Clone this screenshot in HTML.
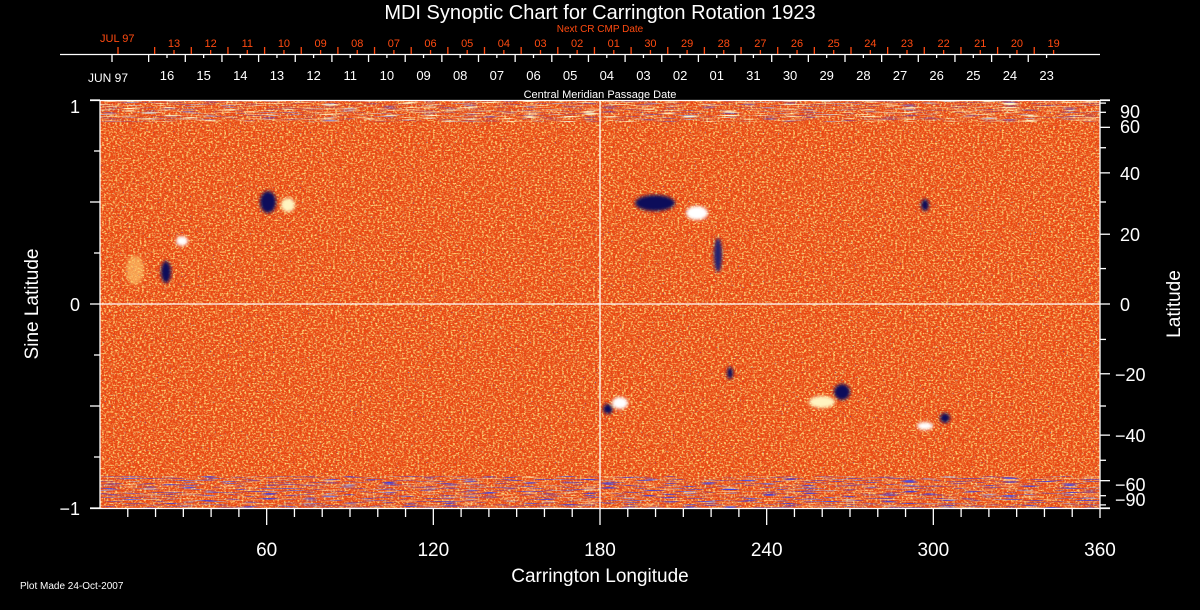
<!DOCTYPE html>
<html><head><meta charset="utf-8"><style>
html,body{margin:0;padding:0;background:#000;}
svg{display:block;font-family:"Liberation Sans",sans-serif;}
</style></head><body>
<svg id="s" width="1200" height="610" xmlns="http://www.w3.org/2000/svg">
<defs>
<filter id="n1" x="0" y="0" width="100%" height="100%">
<feTurbulence type="fractalNoise" baseFrequency="0.45 0.6" numOctaves="2" seed="3"/>
<feColorMatrix type="matrix" values="0 0 0 0 1  0 0 0 0 0.7  0 0 0 0 0.2  3.4 0 0 0 -1.6"/>
</filter>
<filter id="n2" x="0" y="0" width="100%" height="100%">
<feTurbulence type="fractalNoise" baseFrequency="0.5 0.7" numOctaves="1" seed="9"/>
<feColorMatrix type="matrix" values="0 0 0 0 0.8  0 0 0 0 0.12  0 0 0 0 0.02  3 0 0 0 -1.3"/>
</filter>
<filter id="n3" x="0" y="0" width="100%" height="100%">
<feTurbulence type="fractalNoise" baseFrequency="0.6 0.8" numOctaves="1" seed="21"/>
<feColorMatrix type="matrix" values="0 0 0 0 0.05  0 0 0 0 0.05  0 0 0 0 0.55  6 0 0 0 -4.1"/>
</filter>
<filter id="n4" x="0" y="0" width="100%" height="100%">
<feTurbulence type="fractalNoise" baseFrequency="0.05 0.9" numOctaves="1" seed="5"/>
<feColorMatrix type="matrix" values="0 0 0 0 0.05  0 0 0 0 0.05  0 0 0 0 0.75  5 0 0 0 -2.7"/>
</filter>
<filter id="n5" x="0" y="0" width="100%" height="100%">
<feTurbulence type="fractalNoise" baseFrequency="0.05 0.9" numOctaves="1" seed="11"/>
<feColorMatrix type="matrix" values="0 0 0 0 1  0 0 0 0 0.95  0 0 0 0 0.6  5 0 0 0 -2.7"/>
</filter>
<filter id="bl"><feGaussianBlur stdDeviation="1.5"/></filter>
</defs>
<rect x="100" y="100" width="1000" height="408" fill="#ea4410"/>
<rect x="100" y="100" width="1000" height="408" filter="url(#n2)"/>
<rect x="100" y="100" width="1000" height="408" filter="url(#n1)"/>
<rect x="100" y="100" width="1000" height="408" filter="url(#n3)"/>
<svg x="100" y="476" width="1000" height="32"><rect width="1000" height="32" filter="url(#n4)"/><rect width="1000" height="32" filter="url(#n5)" opacity="0.5"/></svg>
<svg x="100" y="100" width="1000" height="22"><rect width="1000" height="22" filter="url(#n5)"/><rect width="1000" height="22" filter="url(#n4)" opacity="0.5"/></svg>
<g filter="url(#bl)">
<ellipse cx="182" cy="241" rx="6" ry="5" fill="#fff"/>
<ellipse cx="166" cy="272" rx="5" ry="11" fill="#10105a"/>
<ellipse cx="135" cy="270" rx="9" ry="15" fill="#ffd070" opacity="0.6"/>
<ellipse cx="268" cy="202" rx="8" ry="11" fill="#10105a"/>
<ellipse cx="288" cy="205" rx="7" ry="7" fill="#fff4c0"/>
<ellipse cx="655" cy="203" rx="20" ry="8" fill="#10105a"/>
<ellipse cx="697" cy="213" rx="11" ry="7" fill="#fff"/>
<ellipse cx="718" cy="255" rx="4" ry="17" fill="#202070"/>
<ellipse cx="925" cy="205" rx="4" ry="6" fill="#10105a"/>
<ellipse cx="620" cy="403" rx="8" ry="6" fill="#fff"/>
<ellipse cx="608" cy="409" rx="5" ry="5" fill="#10105a"/>
<ellipse cx="842" cy="392" rx="8" ry="8" fill="#10105a"/>
<ellipse cx="822" cy="402" rx="13" ry="6" fill="#fff4c0"/>
<ellipse cx="925" cy="426" rx="8" ry="4" fill="#fff"/>
<ellipse cx="945" cy="418" rx="5" ry="5" fill="#10105a"/>
<ellipse cx="730" cy="373" rx="3" ry="6" fill="#10105a"/>
</g>
<g stroke="#fff" stroke-width="1.3" fill="none">
<line x1="600" y1="100" x2="600" y2="508"/>
<line x1="100" y1="304" x2="1100" y2="304"/>
<line x1="90" y1="100.5" x2="1110" y2="100.5"/>
<line x1="90" y1="508.5" x2="1110" y2="508.5"/>
<line x1="100" y1="100" x2="100" y2="508"/>
<line x1="1100" y1="100" x2="1100" y2="518"/>
<line x1="60" y1="54.5" x2="1100" y2="54.5"/>
</g>
<g id="ax" stroke="#fff" stroke-width="1.3"></g>
<g id="txt" fill="#fff"></g>
<text x="600" y="19" fill="#fff" font-size="20" text-anchor="middle">MDI Synoptic Chart for Carrington Rotation 1923</text>
<text x="600" y="32" fill="#ff4a10" font-size="10" text-anchor="middle">Next CR CMP Date</text>
<text x="600" y="98" fill="#fff" font-size="11" text-anchor="middle">Central Meridian Passage Date</text>
<text x="100" y="42" fill="#ff4a10" font-size="11">JUL 97</text>
<text x="88" y="82" fill="#fff" font-size="12">JUN 97</text>
<text x="600" y="582" fill="#fff" font-size="19" text-anchor="middle">Carrington Longitude</text>
<text x="20" y="589" fill="#fff" font-size="10">Plot Made 24-Oct-2007</text>
<text transform="translate(38,304) rotate(-90)" fill="#fff" font-size="19" text-anchor="middle">Sine Latitude</text>
<text transform="translate(1180,304) rotate(-90)" fill="#fff" font-size="19" text-anchor="middle">Latitude</text>
<text x="80" y="113" fill="#fff" font-size="18" text-anchor="end">1</text>
<text x="80" y="311" fill="#fff" font-size="18" text-anchor="end">0</text>
<text x="80" y="515" fill="#fff" font-size="18" text-anchor="end">−1</text>
</svg>
<script>
var ax=document.getElementById('ax'),tx=document.getElementById('txt'),NS="http://www.w3.org/2000/svg";
function L(x1,y1,x2,y2,c){var l=document.createElementNS(NS,'line');l.setAttribute('x1',x1);l.setAttribute('y1',y1);l.setAttribute('x2',x2);l.setAttribute('y2',y2);if(c)l.setAttribute('stroke',c);ax.appendChild(l);}
function T(x,y,s,sz,c,a){var t=document.createElementNS(NS,'text');t.setAttribute('x',x);t.setAttribute('y',y);t.setAttribute('font-size',sz);t.setAttribute('text-anchor',a||'middle');if(c)t.setAttribute('fill',c);t.textContent=s;tx.appendChild(t);}
var d=36.65;
var wl=['16','15','14','13','12','11','10','09','08','07','06','05','04','03','02','01','31','30','29','28','27','26','25','24','23'];
for(var i=0;i<26;i++){var x=112+i*d;if(x<1100)L(x,54,x,62);}
for(var i=0;i<25;i++){var x=167+i*d;L(x,54,x,58);T(x,80,wl[i],13,'#fff');}
var rl=['13','12','11','10','09','08','07','06','05','04','03','02','01','30','29','28','27','26','25','24','23','22','21','20','19'];
var R='#ff4a10';
for(var i=0;i<26;i++){var x=118+i*d;if(x<1100)L(x,47,x,54,R);}
for(var i=0;i<25;i++){var x=174+i*d;L(x,50,x,54,R);T(x,47,rl[i],11,R);}
for(var g=10;g<360;g+=10){var x=100+g*1000/360;L(x,508,x,g%60==0?525:517);}
for(var g=60;g<=360;g+=60){T(100+g*1000/360,556,String(g),19,'#fff');}
for(var v=-1;v<=1.001;v+=0.25){var y=304-204*v;L(Math.abs(v)%0.5<0.01?90:94,y,100,y);}
for(var a=-90;a<=90;a+=10){var y=304-204*Math.sin(a*Math.PI/180);var maj=[0,20,40,60,90,-20,-40,-60,-90].indexOf(a)>=0;L(1100,y,maj?1110:1106,y);}
var labs=[[90,'90'],[60,'60'],[40,'40'],[20,'20'],[0,'0'],[-20,'−20'],[-40,'−40'],[-60,'−60'],[-90,'−90']];
labs.forEach(function(p){var y=304-204*Math.sin(p[0]*Math.PI/180);if(p[0]==90)y=111;if(p[0]==-90)y=499;if(p[0]==60)y=126;if(p[0]==-60)y=484;T(p[0]<0?1115:1120,y+7,p[1],18,'#fff','start');});
</script>
</body></html>
